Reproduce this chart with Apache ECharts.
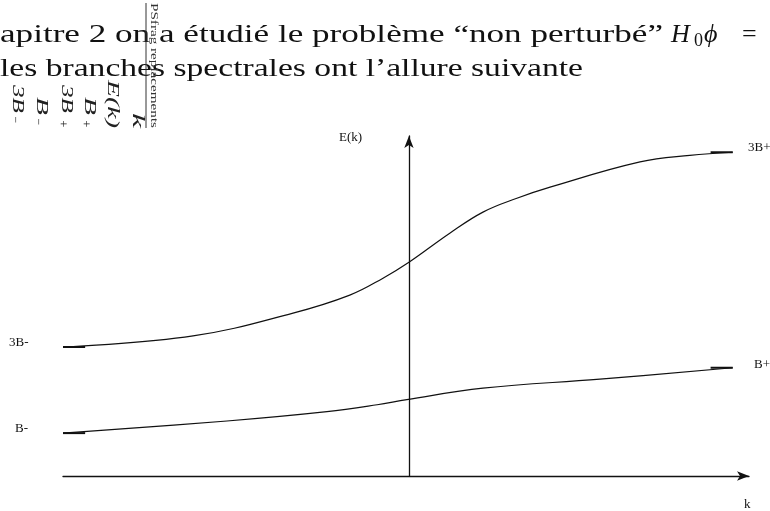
<!DOCTYPE html>
<html>
<head>
<meta charset="utf-8">
<script src="https://cdn.jsdelivr.net/npm/echarts@6/dist/echarts.min.js"></script>
<style>
  html, body { margin: 0; padding: 0; background: #fff; }
  #chart { width: 770px; height: 511px; }
</style>
</head>
<body>
<div id="chart"></div>
<script>
// Spectral branches E(k): the upper branch goes from 3B- to 3B+, the lower one from B- to B+
const kUpper = [-1.0, -0.624, -0.335, -0.171, -0.075, 0.0, 0.118, 0.214, 0.312, 0.408, 0.668, 0.812, 0.936];
const eUpper = [3.73, 4.05, 4.71, 5.23, 5.72, 6.18, 7.02, 7.63, 8.03, 8.35, 9.08, 9.27, 9.36];
const kLower = [-1.0, -0.526, -0.237, -0.092, -0.006, 0.214, 0.552, 0.936];
const eLower = [1.24, 1.59, 1.86, 2.06, 2.21, 2.54, 2.80, 3.13];

// Branch labels and axis names
const branchLabels = ['3B-', 'B-', '3B+', 'B+'];
const axisNames = ['E(k)', 'k'];

// Running text above the figure
const textLine1 = 'apitre 2 on a étudié le problème “non perturbé”';
const textLine2 = 'les branches spectrales ont l’allure suivante';

const SERIF = "'Liberation Serif', 'DejaVu Serif', serif";
const measureCtx = document.createElement('canvas').getContext('2d');
function fitScale(text, font, target) {
  measureCtx.font = font;
  return target / measureCtx.measureText(text).width;
}

const toPairs = (ks, es) => ks.map((k, i) => [k, es[i]]);
const upper = toPairs(kUpper, eUpper);
const lower = toPairs(kLower, eLower);
// short flat strokes marking the band edges at both ends of each branch
const STUB = 0.064;
const stub = (pt, dir) => [pt, [pt[0] + dir * STUB, pt[1]]];

const lineSeries = (data, width, smooth) => ({
  type: 'line', data, smooth, showSymbol: false, symbol: 'none',
  lineStyle: { color: '#111', width }, silent: true, z: 3
});

// rotated psfrag labels (read top to bottom)
const ROT = -Math.PI / 2;
const italicRot = 'italic 17px ' + SERIF;
function rotLabel(text, cx, y0, len, font) {
  return {
    type: 'text', x: cx, y: y0, rotation: ROT,
    scaleX: fitScale(text, font, len), originX: 0, originY: 0,
    style: { text, font, fill: '#222', align: 'left', verticalAlign: 'middle' }
  };
}
function rotSmall(text, cx, cy) {
  return {
    type: 'text', x: cx, y: cy, rotation: ROT,
    style: { text, font: '12px ' + SERIF, fill: '#222', align: 'center', verticalAlign: 'middle' }
  };
}
function plain(text, x, y, font, extra) {
  return Object.assign({
    type: 'text', x, y,
    style: { text, font, fill: '#111', align: 'left', verticalAlign: 'middle' }
  }, extra || {});
}

const font26 = '26px ' + SERIF;
const font13 = '13px ' + SERIF;

const graphics = [
  // body text
  plain(textLine1, 0, 35, font26, { scaleX: fitScale(textLine1, font26, 663) }),
  plain('H', 671, 35, 'italic 26px ' + SERIF),
  plain('0', 694, 41, '18px ' + SERIF),
  plain('ϕ', 704, 35, 'italic 26px ' + SERIF),
  plain('=', 742, 35, font26),
  plain(textLine2, 0, 69, font26, { scaleX: fitScale(textLine2, font26, 583) }),
  // psfrag replacement block
  { type: 'line', shape: { x1: 146, y1: 3, x2: 146, y2: 128 }, style: { stroke: '#333', lineWidth: 1 } },
  {
    type: 'text', x: 153.5, y: 3, rotation: ROT,
    scaleX: fitScale('PSfrag replacements', '10px ' + SERIF, 125),
    style: { text: 'PSfrag replacements', font: '10px ' + SERIF, fill: '#333', align: 'left', verticalAlign: 'middle' }
  },
  rotLabel('3B', 17.5, 85, 28, italicRot), rotSmall('−', 15, 120),
  rotLabel('B', 41, 97, 18, italicRot), rotSmall('−', 38, 122),
  rotLabel('3B', 66, 85, 28, italicRot), rotSmall('+', 62, 124),
  rotLabel('B', 89, 97, 18, italicRot), rotSmall('+', 85, 124),
  rotLabel('E(k)', 112.5, 80, 48, italicRot),
  rotLabel('k', 137.5, 113, 15, italicRot),
  // figure labels
  plain(branchLabels[0], 9, 343, font13),
  plain(branchLabels[1], 15, 429, font13),
  plain(branchLabels[2], 748, 148, font13),
  plain(branchLabels[3], 754, 365, font13),
  plain(axisNames[0], 339, 138, font13),
  plain(axisNames[1], 744, 505, font13)
];

const axisCommon = {
  type: 'value',
  axisLine: {
    show: true, onZero: true,
    symbol: ['none', 'arrow'], symbolSize: [7, 12],
    lineStyle: { color: '#111', width: 1.3 }
  },
  axisTick: { show: false },
  axisLabel: { show: false },
  splitLine: { show: false }
};

const chart = echarts.init(document.getElementById('chart'), null, { renderer: 'canvas' });
chart.setOption({
  animation: false,
  backgroundColor: '#fff',
  grid: { left: 63, right: 21, top: 136, bottom: 35, containLabel: false },
  xAxis: Object.assign({}, axisCommon, { min: -1, max: 0.983 }),
  yAxis: Object.assign({}, axisCommon, { min: 0, max: 9.83 }),
  series: [
    lineSeries(upper, 1.2, 0.4),
    lineSeries(lower, 1.2, 0.4),
    lineSeries(stub(upper[0], 1), 2, false),
    lineSeries(stub(upper[upper.length - 1], -1), 2, false),
    lineSeries(stub(lower[0], 1), 2, false),
    lineSeries(stub(lower[lower.length - 1], -1), 2, false)
  ],
  graphic: graphics
});
</script>
</body>
</html>
